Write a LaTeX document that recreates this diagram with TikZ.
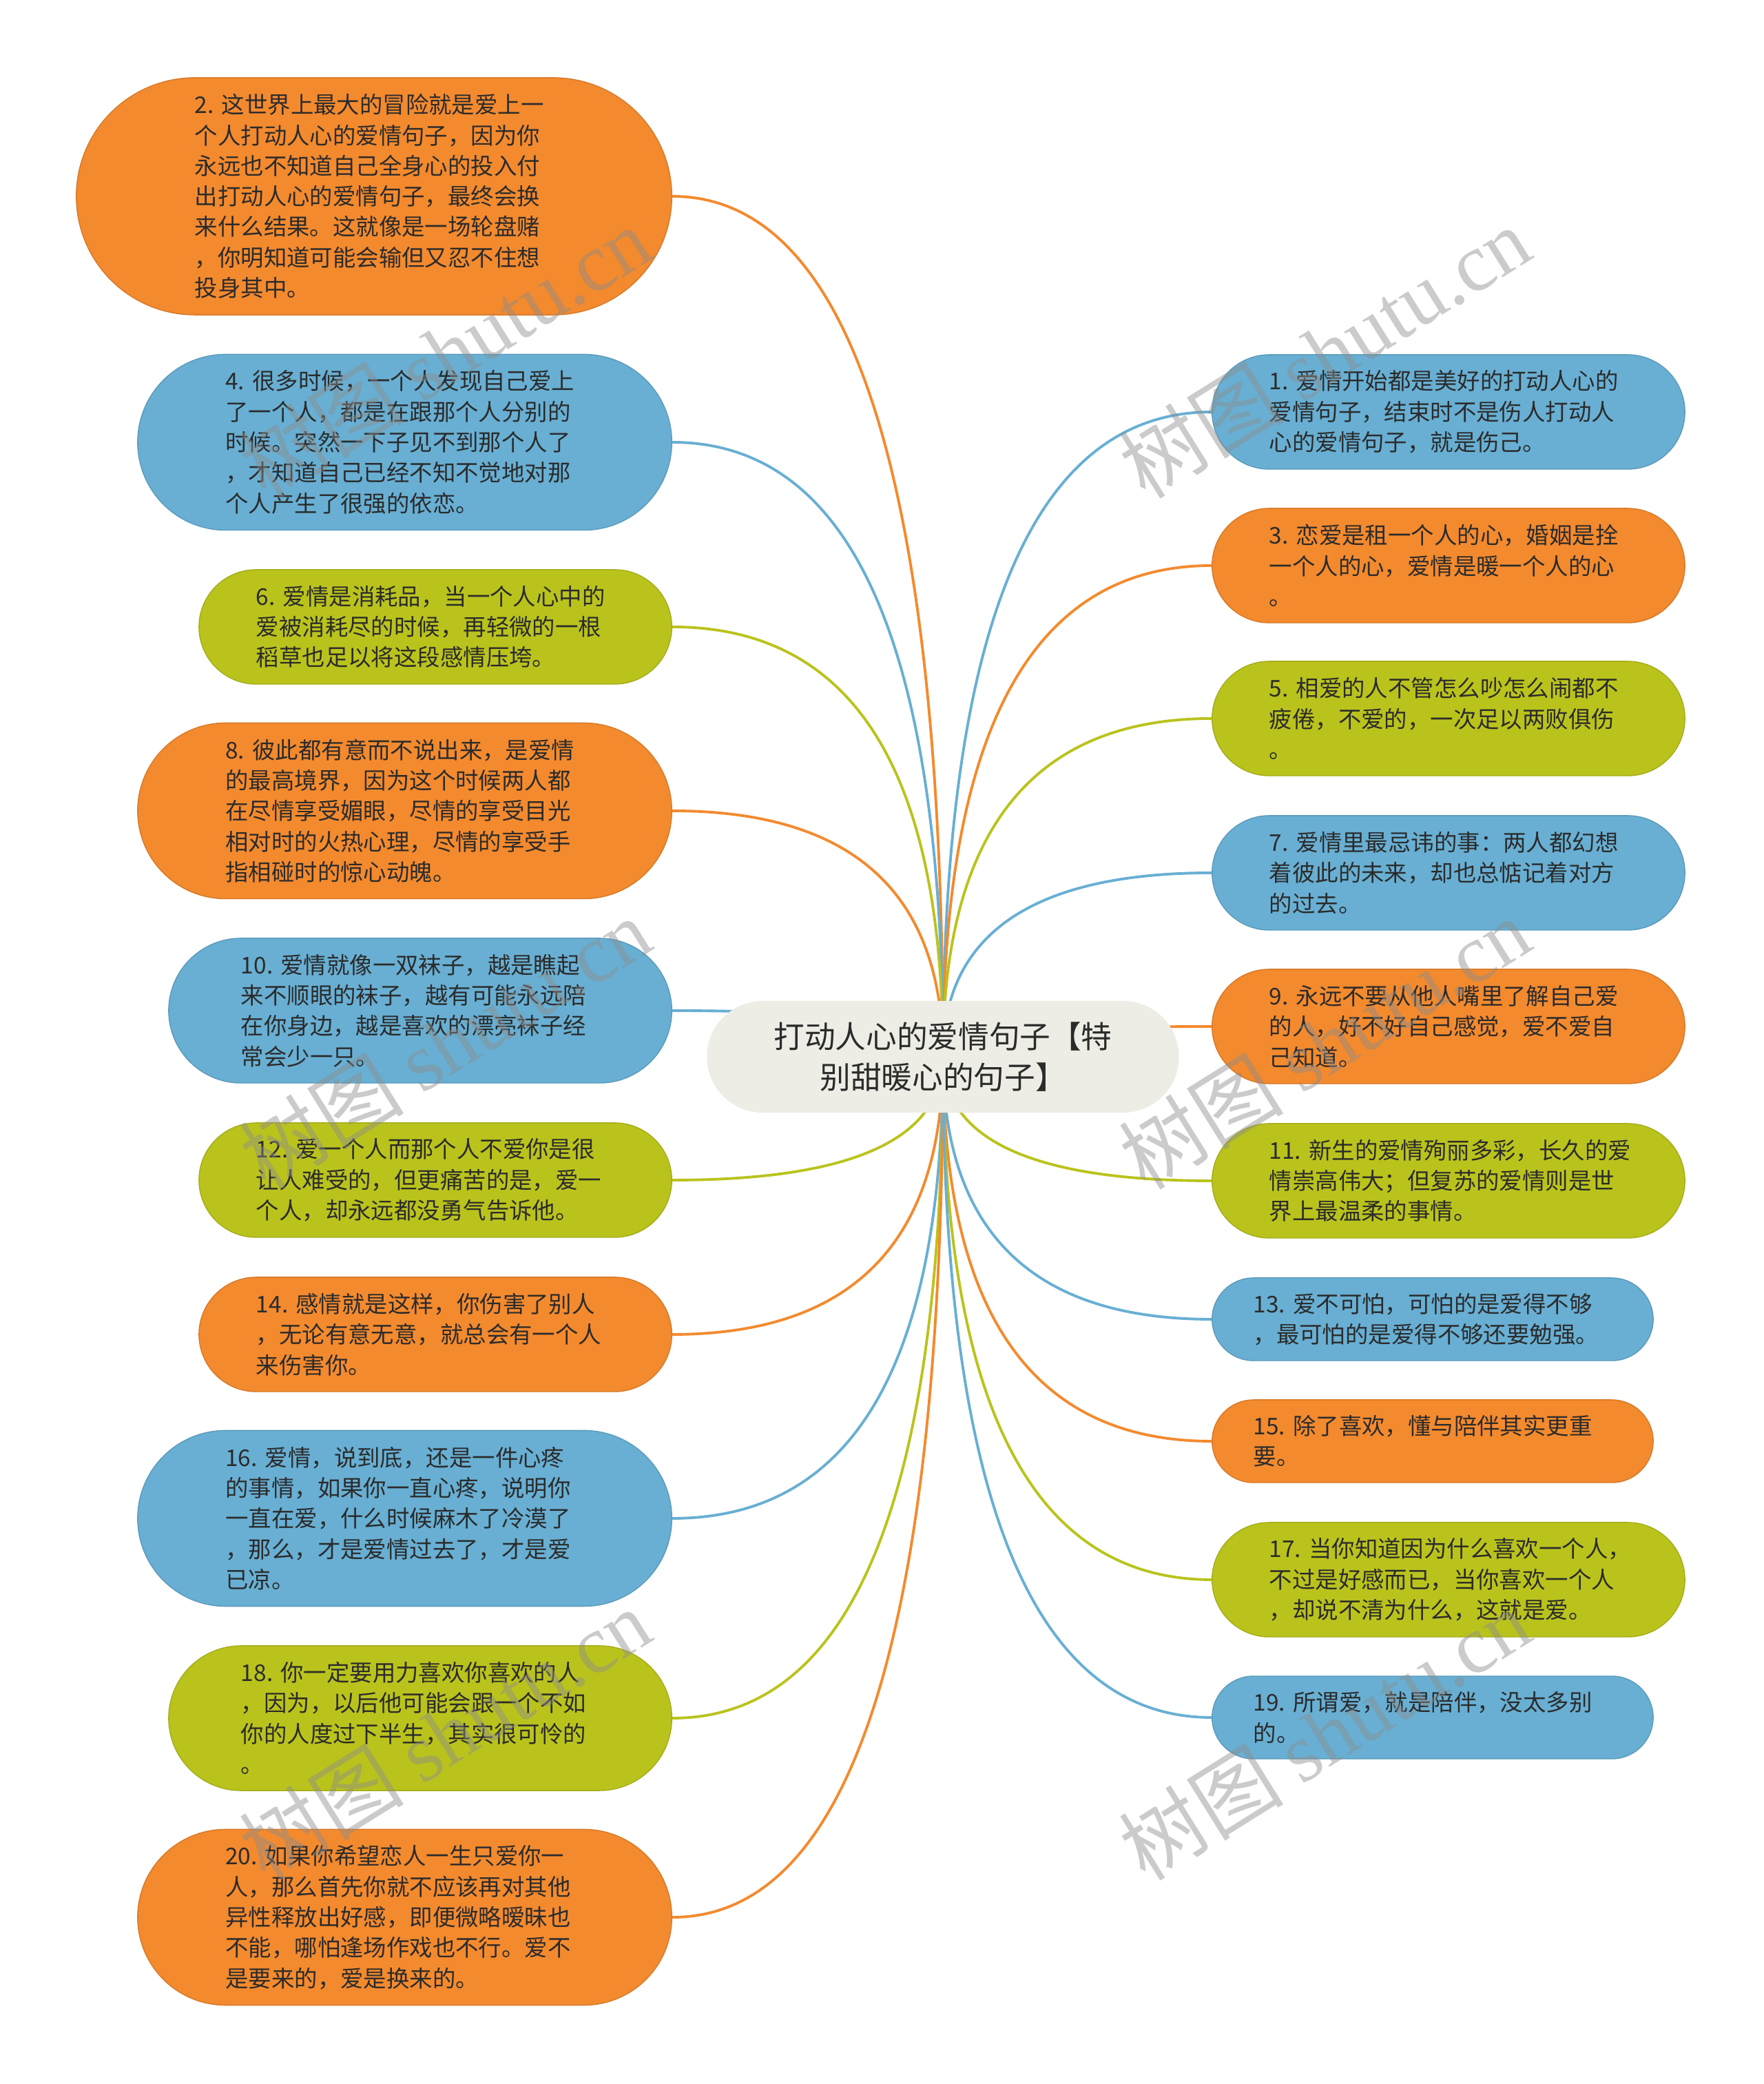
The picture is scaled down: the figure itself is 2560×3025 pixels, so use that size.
\documentclass[tikz,border=0pt]{standalone}
\usepackage{fontspec}
\setmainfont{Noto Sans CJK SC}
\newfontfamily\wmfont{Liberation Serif}
\usepackage{tikz}
\usetikzlibrary{calc,backgrounds}
\definecolor{LeafOrange}{HTML}{F38A2E}
\definecolor{LeafBlue}{HTML}{68AFD3}
\definecolor{LeafGreen}{HTML}{BAC31C}
\definecolor{RootGrey}{HTML}{EDEDE5}
\definecolor{InkGrey}{HTML}{2B2B2B}

\begin{document}
\begin{tikzpicture}[x=0.01cm, y=0.01cm,
    pill/.style={rectangle, rounded corners=#1, inner xsep=#1, inner ysep=0pt,
      minimum height=2*#1},
    leaf/.style={fill=#1, draw=#1!88!black, line width=0.4pt,
      text width=5.2cm, align=left, text=InkGrey,
      font=\fontsize{9.5}{12.6}\selectfont},
    lleaf/.style={leaf=#1, anchor=east},
    rleaf/.style={leaf=#1, anchor=west},
    link/.style={line width=1.1pt},
    wmark/.style={rotate=32, text=black!45, text opacity=0.45,
      font=\fontsize{34}{34}\selectfont}]
    \useasboundingbox (0,0) rectangle (2560,3025);

    \node[pill=0.81cm, fill=RootGrey, text width=5.23cm, align=center, text=InkGrey,
      font=\fontsize{12.7}{17}\selectfont] (root) at (1369,1491)
      {打动人心的爱情句子【特\\别甜暖心的句子】};

    % left column
    \node[lleaf=LeafOrange, pill=1.72cm] (s2) at (976,2740) {2.~这世界上最大的冒险就是爱上一\\个人打动人心的爱情句子，因为你\\永远也不知道自己全身心的投入付\\出打动人心的爱情句子，最终会换\\来什么结果。这就像是一场轮盘赌\\，你明知道可能会输但又忍不住想\\投身其中。};
    \node[lleaf=LeafBlue, pill=1.275cm] (s4) at (976,2383) {4.~很多时候，一个人发现自己爱上\\了一个人，都是在跟那个人分别的\\时候。突然一下子见不到那个人了\\，才知道自己已经不知不觉地对那\\个人产生了很强的依恋。};
    \node[lleaf=LeafGreen, pill=0.83cm] (s6) at (976,2115) {6.~爱情是消耗品，当一个人心中的\\爱被消耗尽的时候，再轻微的一根\\稻草也足以将这段感情压垮。};
    \node[lleaf=LeafOrange, pill=1.275cm] (s8) at (976,1848) {8.~彼此都有意而不说出来，是爱情\\的最高境界，因为这个时候两人都\\在尽情享受媚眼，尽情的享受目光\\相对时的火热心理，尽情的享受手\\指相碰时的惊心动魄。};
    \node[lleaf=LeafBlue, pill=1.05cm] (s10) at (976,1558) {10.~爱情就像一双袜子，越是瞧起\\来不顺眼的袜子，越有可能永远陪\\在你身边，越是喜欢的漂亮袜子经\\常会少一只。};
    \node[lleaf=LeafGreen, pill=0.83cm] (s12) at (976,1312) {12.~爱一个人而那个人不爱你是很\\让人难受的，但更痛苦的是，爱一\\个人，却永远都没勇气告诉他。};
    \node[lleaf=LeafOrange, pill=0.83cm] (s14) at (976,1088) {14.~感情就是这样，你伤害了别人\\，无论有意无意，就总会有一个人\\来伤害你。};
    \node[lleaf=LeafBlue, pill=1.275cm] (s16) at (976,821) {16.~爱情，说到底，还是一件心疼\\的事情，如果你一直心疼，说明你\\一直在爱，什么时候麻木了冷漠了\\，那么，才是爱情过去了，才是爱\\已凉。};
    \node[lleaf=LeafGreen, pill=1.05cm] (s18) at (976,531) {18.~你一定要用力喜欢你喜欢的人\\，因为，以后他可能会跟一个不如\\你的人度过下半生，其实很可怜的\\。};
    \node[lleaf=LeafOrange, pill=1.275cm] (s20) at (976,242) {20.~如果你希望恋人一生只爱你一\\人，那么首先你就不应该再对其他\\异性释放出好感，即便微略暧昧也\\不能，哪怕逢场作戏也不行。爱不\\是要来的，爱是换来的。};

    % right column
    \node[rleaf=LeafBlue, pill=0.83cm] (s1) at (1759,2427) {1.~爱情开始都是美好的打动人心的\\爱情句子，结束时不是伤人打动人\\心的爱情句子，就是伤己。};
    \node[rleaf=LeafOrange, pill=0.83cm] (s3) at (1759,2204) {3.~恋爱是租一个人的心，婚姻是拴\\一个人的心，爱情是暖一个人的心\\。};
    \node[rleaf=LeafGreen, pill=0.83cm] (s5) at (1759,1982) {5.~相爱的人不管怎么吵怎么闹都不\\疲倦，不爱的，一次足以两败俱伤\\。};
    \node[rleaf=LeafBlue, pill=0.83cm] (s7) at (1759,1758) {7.~爱情里最忌讳的事：两人都幻想\\着彼此的未来，却也总惦记着对方\\的过去。};
    \node[rleaf=LeafOrange, pill=0.83cm] (s9) at (1759,1535) {9.~永远不要从他人嘴里了解自己爱\\的人，好不好自己感觉，爱不爱自\\己知道。};
    \node[rleaf=LeafGreen, pill=0.83cm] (s11) at (1759,1311) {11.~新生的爱情殉丽多彩，长久的爱\\情崇高伟大；但复苏的爱情则是世\\界上最温柔的事情。};
    \node[rleaf=LeafBlue, pill=0.6cm] (s13) at (1759,1110) {13.~爱不可怕，可怕的是爱得不够\\，最可怕的是爱得不够还要勉强。};
    \node[rleaf=LeafOrange, pill=0.6cm] (s15) at (1759,933) {15.~除了喜欢，懂与陪伴其实更重\\要。};
    \node[rleaf=LeafGreen, pill=0.83cm] (s17) at (1759,732) {17.~当你知道因为什么喜欢一个人，\\不过是好感而已，当你喜欢一个人\\，却说不清为什么，这就是爱。};
    \node[rleaf=LeafBlue, pill=0.6cm] (s19) at (1759,532) {19.~所谓爱，就是陪伴，没太多别\\的。};

    \begin{scope}[on background layer]
      \fill[white] (0,0) rectangle (2560,3025);
      \foreach \leaf/\side/\col in {s2/east/LeafOrange, s4/east/LeafBlue,
          s6/east/LeafGreen, s8/east/LeafOrange, s10/east/LeafBlue,
          s12/east/LeafGreen, s14/east/LeafOrange, s16/east/LeafBlue,
          s18/east/LeafGreen, s20/east/LeafOrange,
          s1/west/LeafBlue, s3/west/LeafOrange, s5/west/LeafGreen,
          s7/west/LeafBlue, s9/west/LeafOrange, s11/west/LeafGreen,
          s13/west/LeafBlue, s15/west/LeafOrange, s17/west/LeafGreen,
          s19/west/LeafBlue}
        \draw[link, draw=\col] (root.center)
          .. controls ($(root.center)!2/3!(root.center |- \leaf.\side)$)
          and ($(\leaf.\side)!2/3!(root.center |- \leaf.\side)$) .. (\leaf.\side);
    \end{scope}

    % watermarks
    \foreach \x/\y [count=\i] in {646/2514, 1923/2514, 646/1511, 1923/1511, 646/508, 1923/508}
      \node[wmark] (wm\i) at (\x,\y) {树图 {\wmfont shutu.cn}};
  \end{tikzpicture}
\end{document}
